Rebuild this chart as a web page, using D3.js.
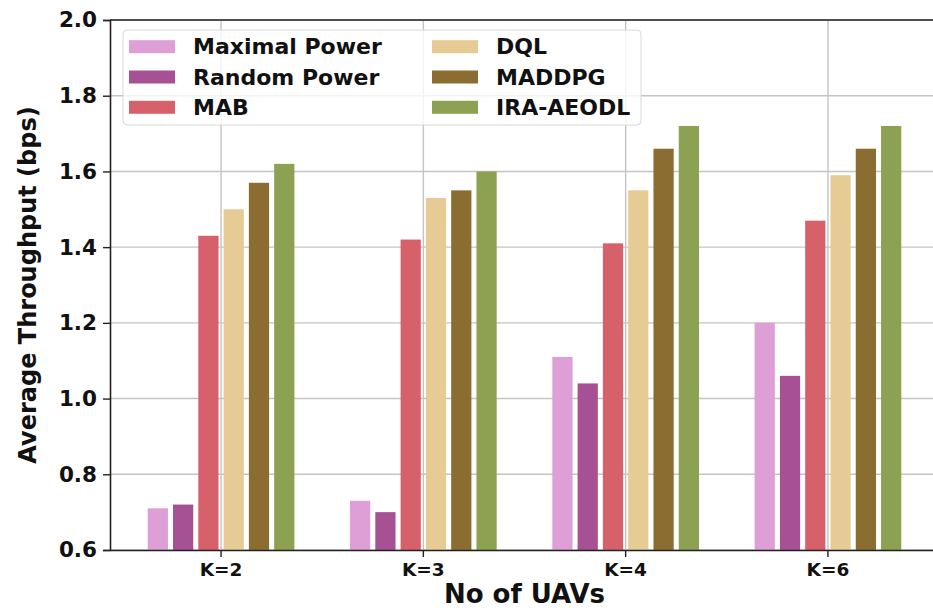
<!DOCTYPE html>
<html>
<head>
<meta charset="utf-8">
<script src="https://cdn.jsdelivr.net/npm/d3@7"></script>
<style>
  body { margin: 0; background: #fff; }
  svg { display: block; font-family: "DejaVu Sans", sans-serif; font-weight: bold; }
</style>
</head>
<body>
<div id="chart"></div>
<script>
var categories = ["K=2", "K=3", "K=4", "K=6"];
var seriesNames = ["Maximal Power", "Random Power", "MAB", "DQL", "MADDPG", "IRA-AEODL"];
var seriesColors = ["#de9ed6", "#a55194", "#d6616b", "#e7cb94", "#8c6d31", "#8ca252"];

var maximalPower = [0.71, 0.73, 1.11, 1.20];
var randomPower  = [0.72, 0.70, 1.04, 1.06];
var mab          = [1.43, 1.42, 1.41, 1.47];
var dql          = [1.50, 1.53, 1.55, 1.59];
var maddpg       = [1.57, 1.55, 1.66, 1.66];
var iraAeodl     = [1.62, 1.60, 1.72, 1.72];

var yTicks = [0.6, 0.8, 1.0, 1.2, 1.4, 1.6, 1.8, 2.0];

var seriesValues = [maximalPower, randomPower, mab, dql, maddpg, iraAeodl];

var width = 933, height = 610;
// plot box (right edge runs past the window, like the reference)
var plotL = 110, plotT = 20, plotR = 939, plotB = 550;

var svg = d3.select("#chart").append("svg")
  .attr("width", width)
  .attr("height", height);

// scales
var x0 = d3.scaleBand()
  .domain(categories)
  .range([plotL, plotR])
  .paddingInner(0)
  .paddingOuter(0.049);

var groupW = x0.step() * 0.75;
var x1 = d3.scaleBand()
  .domain(seriesNames)
  .range([-groupW / 2, groupW / 2])
  .paddingInner(0.2)
  .paddingOuter(0.1);

var y = d3.scaleLinear()
  .domain([0.6, 2.0])
  .range([plotB, plotT]);

// grid
var grid = svg.append("g");
grid.selectAll(".hgrid").data(yTicks).enter().append("line")
  .attr("x1", plotL).attr("x2", plotR)
  .attr("y1", function(d) { return y(d); })
  .attr("y2", function(d) { return y(d); })
  .attr("stroke", "#c4c4c4")
  .attr("stroke-width", 1.4);
grid.selectAll(".vgrid").data(categories).enter().append("line")
  .attr("x1", function(d) { return x0(d) + x0.bandwidth() / 2; })
  .attr("x2", function(d) { return x0(d) + x0.bandwidth() / 2; })
  .attr("y1", plotT).attr("y2", plotB)
  .attr("stroke", "#c4c4c4")
  .attr("stroke-width", 1.4);

// bars
var groups = svg.append("g").selectAll("g")
  .data(categories).enter().append("g")
  .attr("transform", function(d) { return "translate(" + (x0(d) + x0.bandwidth() / 2) + ",0)"; });

groups.selectAll("rect")
  .data(function(d, ci) {
    return seriesNames.map(function(s, si) { return { name: s, value: seriesValues[si][ci], color: seriesColors[si] }; });
  })
  .enter().append("rect")
  .attr("x", function(d) { return x1(d.name); })
  .attr("width", x1.bandwidth())
  .attr("y", function(d) { return y(d.value); })
  .attr("height", function(d) { return plotB - y(d.value); })
  .attr("fill", function(d) { return d.color; });

// axes
var yAxis = svg.append("g")
  .attr("transform", "translate(" + plotL + ",0)")
  .call(d3.axisLeft(y).tickValues(yTicks).tickFormat(d3.format(".1f")).tickSize(7).tickPadding(6));
yAxis.select(".domain").attr("stroke", "#222").attr("stroke-width", 1.6);
yAxis.selectAll(".tick line").attr("stroke", "#222").attr("stroke-width", 1.4);
yAxis.selectAll("text").attr("font-size", "21.5px").attr("font-weight", "bold")
  .attr("font-family", "DejaVu Sans").attr("fill", "#111");

var xAxis = svg.append("g")
  .attr("transform", "translate(0," + plotB + ")")
  .call(d3.axisBottom(x0).tickSize(7).tickPadding(6).tickSizeOuter(0));
xAxis.select(".domain").attr("stroke", "#222").attr("stroke-width", 1.6);
xAxis.selectAll(".tick line").attr("stroke", "#222").attr("stroke-width", 1.4);
xAxis.selectAll("text").attr("font-size", "18.5px").attr("font-weight", "bold")
  .attr("font-family", "DejaVu Sans").attr("fill", "#111");

// top spine
svg.append("line")
  .attr("x1", plotL).attr("x2", plotR)
  .attr("y1", plotT).attr("y2", plotT)
  .attr("stroke", "#222").attr("stroke-width", 1.6);

// axis labels
svg.append("text")
  .attr("x", (plotL + plotR) / 2)
  .attr("y", 603)
  .attr("text-anchor", "middle")
  .attr("font-size", "26px")
  .attr("fill", "#111")
  .text("No of UAVs");

svg.append("text")
  .attr("transform", "translate(36," + ((plotT + plotB) / 2) + ") rotate(-90)")
  .attr("text-anchor", "middle")
  .attr("font-size", "24px")
  .attr("fill", "#111")
  .text("Average Throughput (bps)");

// legend
var legend = svg.append("g");
legend.append("rect")
  .attr("x", 123).attr("y", 30)
  .attr("width", 518).attr("height", 95)
  .attr("rx", 4)
  .attr("fill", "#fff").attr("fill-opacity", 0.8)
  .attr("stroke", "#d8d8d8").attr("stroke-width", 1);

var items = legend.selectAll(".item")
  .data(seriesNames).enter().append("g")
  .attr("transform", function(d, i) {
    var col = Math.floor(i / 3), row = i % 3;
    return "translate(" + (col === 0 ? 129 : 432) + "," + (46.7 + row * 30.3) + ")";
  });
items.append("rect")
  .attr("x", 0).attr("y", -6.5)
  .attr("width", 46).attr("height", 13)
  .attr("fill", function(d, i) { return seriesColors[i]; });
items.append("text")
  .attr("x", 64).attr("y", 0)
  .attr("dy", "0.35em")
  .attr("font-size", "22px")
  .attr("fill", "#111")
  .text(function(d) { return d; });
</script>
</body>
</html>
